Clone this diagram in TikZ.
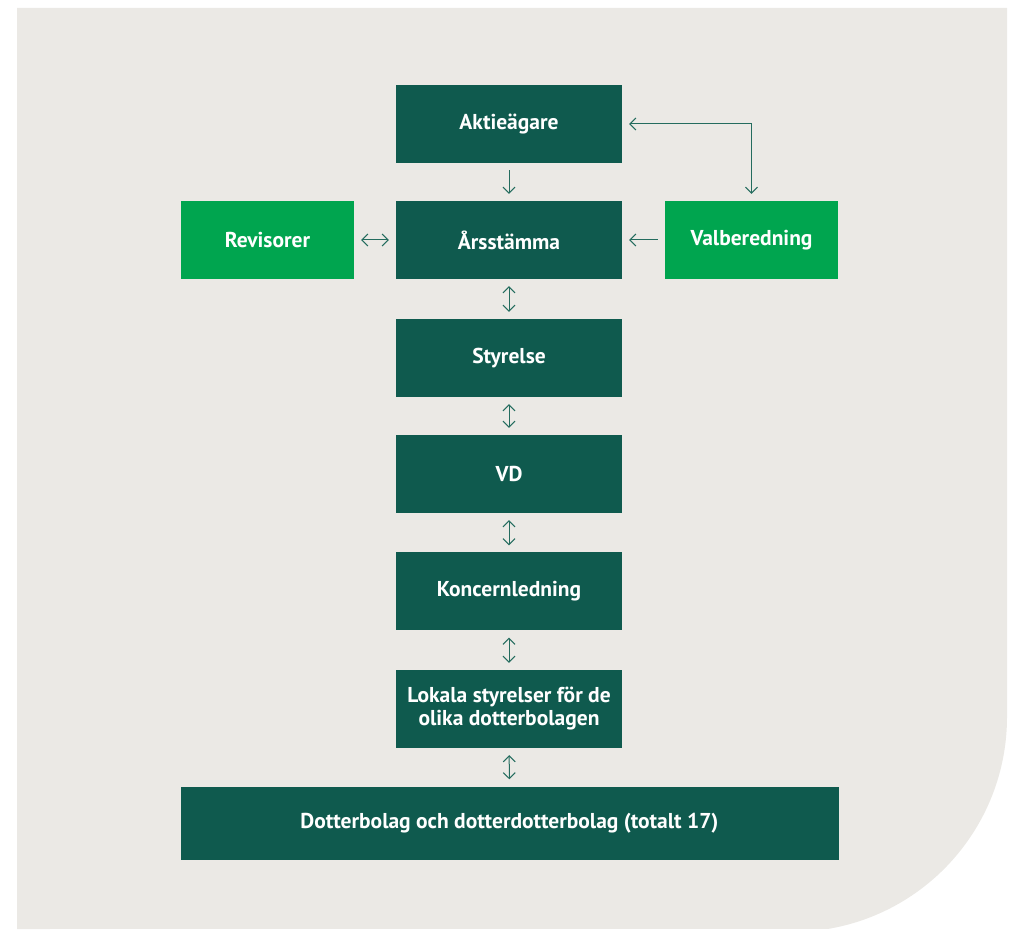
\documentclass[tikz,border=0pt]{standalone}
\usepackage{fontspec}
\setmainfont{PT Sans}
\usetikzlibrary{arrows.meta}
\definecolor{bgGrey}{HTML}{EBE9E5}
\definecolor{darkGreen}{HTML}{0F5A4E}
\definecolor{lightGreen}{HTML}{00A54F}
\definecolor{lineGreen}{HTML}{246C5E}
\begin{document}
\begin{tikzpicture}[x=1pt, y=1pt,
  box/.style={fill=darkGreen, text=white, font=\fontsize{21.5}{23}\selectfont\bfseries, minimum width=226pt, minimum height=78pt, inner sep=0pt, align=center},
  sidebox/.style={box, fill=lightGreen, minimum width=173pt},
  link/.style={draw=lineGreen, line width=1pt, shorten <=7pt, shorten >=7pt, arrows={-Straight Barb[length=6pt, width=12pt]}},
  both/.style={link, arrows={Straight Barb[length=6pt, width=12pt]-Straight Barb[length=6pt, width=12pt]}}]
\useasboundingbox (0,0) rectangle (1011,929);
\fill[bgGrey] (17,921) -- (1007,921) -- (1007,212) arc[start angle=0, end angle=-80.3, radius=215] -- (17,0) -- cycle;
\node[box] (aktie) at (509,805){Aktieägare};
\node[box] (stamma) at (509,689){Årsstämma};
\node[sidebox] (revis) at (267.5,689){Revisorer};
\node[sidebox] (valb) at (751.5,689){Valberedning};
\node[box] (styr) at (509,571){Styrelse};
\node[box] (vd) at (509,455){VD};
\node[box] (koncern) at (509,337.5){Koncernledning};
\node[box] (lokala) at (509,220){Lokala styrelser för de\\olika dotterbolagen};
\node[box, minimum width=658pt, minimum height=73pt] (dotter) at (509.5,106){Dotterbolag och dotterdotterbolag (totalt 17)};
\draw[link](aktie) -- (stamma);
\draw[both](revis) -- (stamma);
\draw[link](valb) -- (stamma);
\draw[both](aktie.east) -| (valb.north);
\draw[both](stamma) -- (styr);
\draw[both](styr) -- (vd);
\draw[both](vd) -- (koncern);
\draw[both](koncern) -- (lokala);
\draw[both](lokala) -- (dotter);
\end{tikzpicture}
\end{document}
